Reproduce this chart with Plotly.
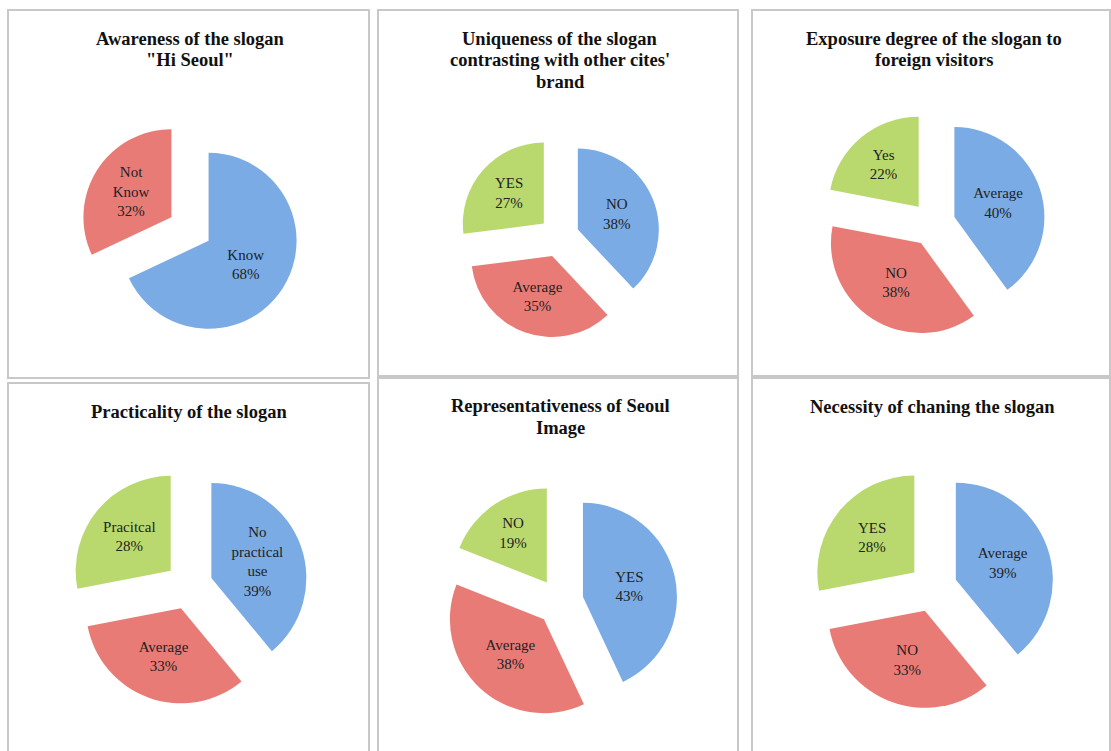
import plotly.graph_objects as go

W, H = 1111, 751

title_lines = [
    ["Awareness of the slogan", '"Hi Seoul"'],
    ["Uniqueness of the slogan", "contrasting with other cites'", "brand"],
    ["Exposure degree of the slogan to", "foreign visitors"],
    ["Practicality of the slogan"],
    ["Representativeness of Seoul", "Image"],
    ["Necessity of chaning the slogan"],
]

labels1 = ["Know", "Not<br>Know"]
values1 = [68, 32]
labels2 = ["NO", "Average", "YES"]
values2 = [38, 35, 27]
labels3 = ["Average", "NO", "Yes"]
values3 = [40, 38, 22]
labels4 = ["No<br>practical<br>use", "Average", "Pracitcal"]
values4 = [39, 33, 28]
labels5 = ["YES", "Average", "NO"]
values5 = [43, 38, 19]
labels6 = ["Average", "NO", "YES"]
values6 = [39, 33, 28]

all_labels = [labels1, labels2, labels3, labels4, labels5, labels6]
all_values = [values1, values2, values3, values4, values5, values6]

BLUE = "#7aabe4"
RED = "#e97b76"
GREEN = "#b9d96e"
colors_by_chart = [
    [BLUE, RED],
    [BLUE, RED, GREEN],
    [BLUE, RED, GREEN],
    [BLUE, RED, GREEN],
    [BLUE, RED, GREEN],
    [BLUE, RED, GREEN],
]

# layout geometry (pixels): pie centre, radius
pies_geo = [
    (190, 229, 88),
    (559, 237, 81),
    (933, 224, 90),
    (189, 586, 95),
    (560, 602, 94),
    (933, 588, 97),
]
PULL = 0.25

title_x = [190, 560, 934, 189, 560, 932]
title_line_y = [
    [39, 60],
    [39, 60, 82],
    [39, 60],
    [412],
    [406, 428],
    [407],
]

panels = [
    (8, 10, 369, 378),
    (378, 10, 738, 376),
    (752, 10, 1110, 376),
    (8, 383, 369, 760),
    (378, 378, 738, 760),
    (752, 378, 1110, 760),
]

fig = go.Figure()
for i in range(6):
    cx, cy, r = pies_geo[i]
    s = 2 * r * (1 + PULL)
    dom_x = [(cx - s / 2) / W, (cx + s / 2) / W]
    dom_y = [1 - (cy + s / 2) / H, 1 - (cy - s / 2) / H]
    fig.add_trace(go.Pie(
        labels=all_labels[i],
        values=all_values[i],
        sort=False,
        direction="clockwise",
        rotation=0,
        pull=[PULL] * len(all_values[i]),
        marker=dict(colors=colors_by_chart[i], line=dict(width=0)),
        texttemplate="%{label}<br>%{value}%",
        textposition="inside",
        insidetextorientation="horizontal",
        insidetextfont=dict(family="Liberation Serif", size=15, color="#222222"),
        hoverinfo="label+percent",
        domain=dict(x=dom_x, y=dom_y),
        showlegend=False,
    ))

shapes = []
for (x0, y0, x1, y1) in panels:
    shapes.append(dict(
        type="rect", xref="paper", yref="paper",
        x0=x0 / W, x1=x1 / W, y0=1 - y1 / H, y1=1 - y0 / H,
        line=dict(color="#c8c8c8", width=2), fillcolor="rgba(0,0,0,0)",
        layer="below",
    ))

annotations = []
for i in range(6):
    for line, ly in zip(title_lines[i], title_line_y[i]):
        annotations.append(dict(
            text="<b>" + line + "</b>",
            x=title_x[i] / W, y=1 - ly / H,
            xref="paper", yref="paper",
            xanchor="center", yanchor="middle",
            showarrow=False,
            font=dict(family="Liberation Serif", size=18.5, color="#111111"),
            align="center",
        ))

fig.update_layout(
    width=W, height=H,
    margin=dict(l=0, r=0, t=0, b=0),
    paper_bgcolor="white",
    plot_bgcolor="white",
    shapes=shapes,
    annotations=annotations,
    showlegend=False,
)

fig.write_html("out.html")
